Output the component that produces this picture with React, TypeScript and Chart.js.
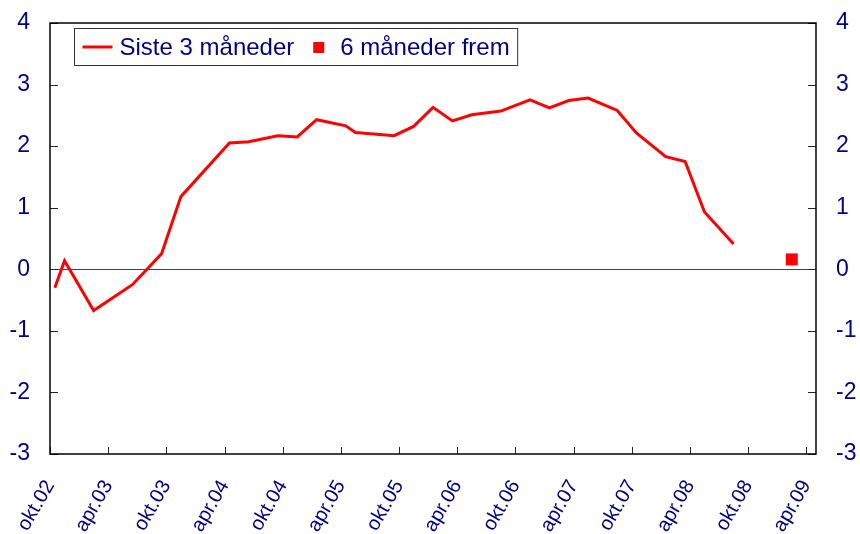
import React, { useEffect, useRef } from "react";
import { Chart, registerables } from "chart.js";

Chart.register(...registerables);

// Observation months (YYYY-MM) and values
const obsMonths = [
  "2002-10", "2002-11", "2003-02", "2003-06", "2003-09", "2003-11",
  "2004-04", "2004-06", "2004-09", "2004-11", "2005-01", "2005-04",
  "2005-05", "2005-09", "2005-11", "2006-01", "2006-03", "2006-05",
  "2006-08", "2006-11", "2007-01", "2007-03", "2007-05", "2007-08",
  "2007-10", "2008-01", "2008-03", "2008-05", "2008-08",
];
const last3Months = [
  -0.30, 0.14, -0.67, -0.25, 0.25, 1.18,
  2.05, 2.07, 2.17, 2.15, 2.43, 2.33,
  2.22, 2.17, 2.32, 2.63, 2.41, 2.51,
  2.57, 2.75, 2.62, 2.74, 2.78, 2.58,
  2.21, 1.83, 1.75, 0.93, 0.41,
];
const forecastMonths = ["2009-02"];
const next6Months = [0.16];

const tickLabels = [
  "okt.02", "apr.03", "okt.03", "apr.04", "okt.04", "apr.05", "okt.05",
  "apr.06", "okt.06", "apr.07", "okt.07", "apr.08", "okt.08", "apr.09",
];
const seriesNames = ["Siste 3 måneder", "6 måneder frem"];

const START_YEAR = 2002;
const START_MONTH = 10;
const TOTAL_MONTHS = 79;

const monthToX = (m: string) => {
  const [y, mo] = m.split("-").map(Number);
  return (y - START_YEAR) * 12 + (mo - START_MONTH) + 0.5;
};

const NAVY = "#000080";
const RED = "#ff0000";
const FONT = "'Liberation Sans', Arial, sans-serif";

const framePlugin = {
  id: "frame",
  beforeDatasetsDraw(chart: any) {
    const { ctx, chartArea } = chart;
    const y = chart.scales.y;
    const y0 = y.getPixelForValue(0);
    ctx.save();
    ctx.strokeStyle = "#444";
    ctx.lineWidth = 1;
    ctx.beginPath();
    ctx.moveTo(chartArea.left, Math.round(y0) + 0.5);
    ctx.lineTo(chartArea.right, Math.round(y0) + 0.5);
    ctx.stroke();
    ctx.restore();
  },
  afterDatasetsDraw(chart: any) {
    const { ctx, chartArea } = chart;
    const { left, right, top, bottom } = chartArea;
    const y = chart.scales.y;
    const x = chart.scales.x;
    ctx.save();
    ctx.strokeStyle = "#222";
    ctx.lineWidth = 1;
    ctx.beginPath();
    for (let v = -3; v <= 4; v++) {
      const py = Math.round(y.getPixelForValue(v)) + 0.5;
      ctx.moveTo(left, py);
      ctx.lineTo(left + 8, py);
      ctx.moveTo(right, py);
      ctx.lineTo(right - 8, py);
    }
    for (let i = 0; i < tickLabels.length; i++) {
      const px = Math.round(x.getPixelForValue(i * 6)) + 0.5;
      ctx.moveTo(px, bottom);
      ctx.lineTo(px, bottom - 7);
    }
    ctx.stroke();
    ctx.lineWidth = 1.5;
    ctx.strokeStyle = "#000";
    ctx.strokeRect(left, top, right - left, bottom - top);
    ctx.restore();

    // legend
    ctx.save();
    ctx.font = `24px ${FONT}`;
    ctx.textBaseline = "middle";
    const bx = left + 24.5;
    const by = top + 5.5;
    const cy = by + 18.5;
    const lineX0 = bx + 8;
    const t1x = lineX0 + 37;
    const w1 = ctx.measureText(seriesNames[0]).width;
    const sqX = t1x + w1 + 19;
    const t2x = sqX + 27;
    const w2 = ctx.measureText(seriesNames[1]).width;
    const bw = t2x + w2 + 8 - bx;
    ctx.fillStyle = "#fff";
    ctx.fillRect(bx, by, bw, 37);
    ctx.strokeStyle = "#333";
    ctx.lineWidth = 1;
    ctx.strokeRect(bx, by, bw, 37);
    ctx.strokeStyle = RED;
    ctx.lineWidth = 3;
    ctx.beginPath();
    ctx.moveTo(lineX0, cy);
    ctx.lineTo(lineX0 + 30, cy);
    ctx.stroke();
    ctx.fillStyle = RED;
    ctx.fillRect(sqX, cy - 5, 11, 11);
    ctx.fillStyle = NAVY;
    ctx.fillText(seriesNames[0], t1x, cy + 1);
    ctx.fillText(seriesNames[1], t2x, cy + 1);
    ctx.restore();
  },
};

export default function App() {
  const ref = useRef<HTMLCanvasElement | null>(null);

  useEffect(() => {
    if (!ref.current) return;
    const yTicks = {
      stepSize: 1,
      color: NAVY,
      font: { size: 23, family: FONT },
      padding: 20,
    };
    const noPad = (scale: any) => {
      scale.paddingTop = 0;
      scale.paddingBottom = 0;
      scale.paddingLeft = 0;
      scale.paddingRight = 0;
    };
    const chart = new Chart(ref.current, {
      type: "line",
      data: {
        datasets: [
          {
            label: seriesNames[0],
            data: obsMonths.map((m, i) => ({ x: monthToX(m), y: last3Months[i] })),
            borderColor: RED,
            backgroundColor: RED,
            borderWidth: 3,
            pointRadius: 0,
            tension: 0,
          },
          {
            label: seriesNames[1],
            data: forecastMonths.map((m, i) => ({ x: monthToX(m), y: next6Months[i] })),
            showLine: false,
            pointStyle: "rect",
            pointRadius: 8.5,
            backgroundColor: RED,
            borderColor: RED,
            borderWidth: 0,
          },
        ],
      },
      options: {
        animation: false,
        responsive: true,
        maintainAspectRatio: false,
        layout: { padding: { top: 23, left: 0, right: 0, bottom: 0 } },
        plugins: { legend: { display: false }, tooltip: { enabled: false } },
        scales: {
          x: {
            type: "linear",
            min: 0,
            max: TOTAL_MONTHS,
            afterBuildTicks: (scale: any) => {
              scale.ticks = tickLabels.map((_, i) => ({ value: i * 6 }));
            },
            afterFit: (scale: any) => {
              scale.height = 80;
              noPad(scale);
            },
            ticks: {
              autoSkip: false,
              minRotation: 60,
              maxRotation: 60,
              color: NAVY,
              font: { size: 20, family: FONT },
              padding: 22,
              callback: (v: any) => tickLabels[Math.round(Number(v) / 6)] ?? "",
            },
            grid: { display: false, drawTicks: false },
            border: { display: false },
          },
          y: {
            position: "left",
            min: -3,
            max: 4,
            afterFit: (scale: any) => {
              scale.width = 50;
              noPad(scale);
            },
            ticks: yTicks,
            grid: { display: false, drawTicks: false },
            border: { display: false },
          },
          y2: {
            position: "right",
            min: -3,
            max: 4,
            afterFit: (scale: any) => {
              scale.width = 44;
              noPad(scale);
            },
            ticks: yTicks,
            grid: { display: false, drawTicks: false },
            border: { display: false },
          },
        },
      } as any,
      plugins: [framePlugin],
    });
    return () => chart.destroy();
  }, []);

  return (
    <div style={{ position: "absolute", left: 0, top: 0, width: 860, height: 534 }}>
      <canvas ref={ref} />
    </div>
  );
}
